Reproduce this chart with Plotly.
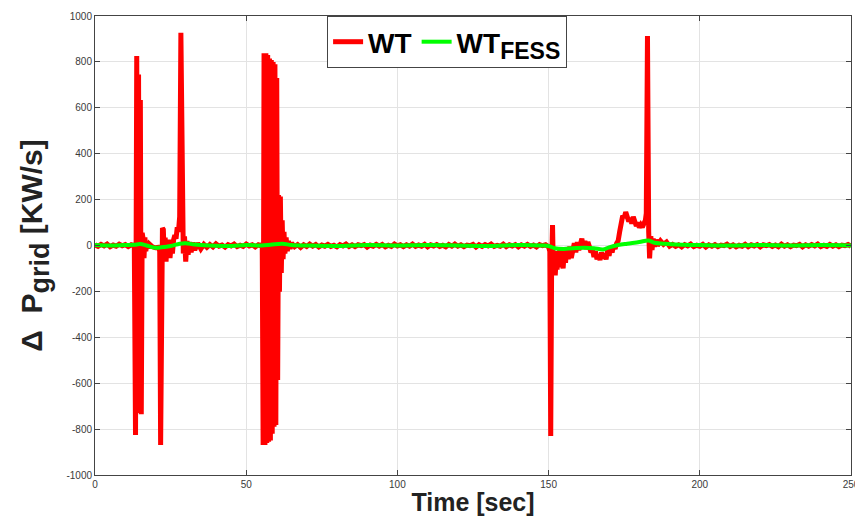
import plotly.graph_objects as go

# ---------------- WT (without FESS) ----------------
quiet_a_t = list(range(0, 14))
quiet_a_p = [3, -4, 5, -2, 6, -5, 2, -3, 6, -1, 4, -5, 3, -1]

burst_1_t = [13.4, 13.8, 14.1, 14.4, 14.7, 15.0, 15.3, 15.6, 15.9, 16.2, 16.5, 16.8, 17.2, 17.6,
             18, 19, 20, 21, 21.4, 21.7, 22.0, 22.3, 22.6, 22.9, 23.2, 23.5, 23.8, 24.1, 24.4,
             24.8, 25.2, 25.6, 26.0, 26.4, 26.8, 27.2, 27.6, 28.0, 28.4, 28.8, 29.2, 29.6, 30.0,
             30.4, 30.8, 31.3, 31.8, 32.3, 33, 34, 35]
burst_1_p = [-826, 826, -480, 745, -730, 634, -735, 55, 30, -55, 35, -25, 18, -12,
             6, -6, -10, -8, -25, -869, -40, 76, 70, -55, 35, -70, 15, -45, 25,
             -55, 5, -35, 25, 45, 30, 80, 60, 125, 927, 75, -35, 40, -70,
             20, -40, 15, -30, 12, -20, 10, -15]

quiet_b_t = list(range(36, 56))
quiet_b_p = [5, -8, 4, -6, 7, -3, 2, -7, 4, -2, 6, -5, 1, -4, 6, -2, 3, -6, 3, -2]

burst_2_t = [55.3, 55.6, 55.9, 56.2, 56.5, 56.8, 57.1, 57.4, 57.7, 58.0, 58.3, 58.6, 58.9, 59.2,
             59.5, 59.8, 60.1, 60.4, 60.7, 61.0, 61.3, 61.6, 61.9, 62.2, 62.5, 62.8, 63.2, 63.6,
             64.0, 64.5, 65]
burst_2_p = [10, -869, 838, -869, 838, -860, 830, -855, 815, -850, 808, -820, 800, -790,
             790, -782, 730, -586, 220, -201, 213, -120, 110, -60, 60, -35, 35, -25,
             20, -15, 10]

quiet_c_t = list(range(66, 150))
quiet_c_p = [-5, 4, -8, 3, -4, 6, -3, 4, -6, 2, -3, 5, -4, 1, -6, 4, -2, 6, -4, 3,
             -5, 3, -1, 4, -7, 2, -3, 5, -3, 4, -6, 1, -4, 6, -2, 3, -5, 3, -3, 6,
             -4, 2, -3, 5, -6, 3, -2, 4, -4, 1, -6, 4, -3, 6, -3, 3, -5, 2, -1, 5,
             -7, 3, -4, 4, -2, 6, -4, 1, -3, 6, -5, 3, -2, 4, -6, 3, -3, 5, -4, 2,
             -6, 4, -1, 3]

burst_3_t = [150.0, 150.4, 150.7, 151.0, 151.3, 151.6, 151.9, 152.2, 152.5, 152.8, 153.1, 153.4,
             153.7, 154.0, 154.4, 154.8, 155.2, 155.6, 156.0, 156.5, 157.0, 157.5, 158.0, 158.5,
             159.0, 159.5, 160.0, 160.5, 161.0, 161.5, 162.0, 162.5, 163.0, 163.5, 164.0, 164.5,
             165.0, 165.5, 166.0, 166.5, 167.0, 167.5, 168.0, 168.5, 169.0, 169.5, 170.0, 170.5,
             171.0, 171.5, 172.0, 172.5, 173.0, 173.5, 174.0, 174.5, 175.0, 175.5, 176.0, 176.5,
             177.0, 177.5, 178.0, 178.5, 179.0, 179.5, 180.0, 180.5, 181.0, 181.5, 182.0, 182.3,
             182.7, 183.1, 183.4, 183.8, 184.2, 184.6, 185.0, 185.5, 186, 187, 188, 189, 190]
burst_3_p = [-6, -25, -830, -90, 89, -125, -40, -130, -55, -105, -25, -95,
             -15, -80, -30, -100, -20, -75, -10, -60, -5, -55, -15, 10,
             -30, 15, -20, 5, 30, -10, 20, -15, 15, -5, -30, -15,
             -50, -25, -60, -40, -63, -30, -55, -35, -60, -20, -45, -10,
             -30, 0, -15, 10, 20, 60, 110, 130, 120, 146, 125, 105,
             120, 95, 125, 110, 85, 100, 78, 90, 80, 95, 110, 140,
             913, 60, -56, 40, -20, 30, -5, 25, 0, 20, 5, 15, -3]

quiet_d_t = list(range(191, 251))
quiet_d_p = [5, -4, 3, -6, 4, -2, 6, -5, 1, -3, 5, -7, 3, -3, 4, -5, 2, -1, 6, -4,
             3, -6, 1, -3, 5, -5, 3, -2, 4, -6, 3, -1, 4, -4, 2, -5, 6, -3, 3, -5,
             2, -1, 5, -6, 3, -3, 4, -2, 6, -5, 1, -4, 5, -3, 3, -5, 2, -1, 4, -3]

# ---------------- WT with FESS ----------------
fess_t = [0, 5, 10, 13, 15, 17, 20, 22, 25, 28, 30, 33, 38, 45, 50, 55, 58, 62, 65, 70,
          80, 90, 100, 110, 120, 130, 140, 148, 150, 152, 155, 158, 162, 165, 168, 170,
          173, 176, 180, 183, 185, 188, 192, 200, 210, 220, 230, 240, 250]
fess_p = [2, 0, 2, 3, 6, 0, -10, -8, -2, 8, 10, 4, 0, -2, 2, 0, 3, 8, 2, 0,
          -2, 2, 0, 2, 0, -2, 2, 0, -2, -12, -15, -12, -10, -12, -17, -8,
          2, 8, 15, 22, 12, 8, 4, 2, 0, 2, 0, 2, 0]

x_ticks = [0, 50, 100, 150, 200, 250]
y_ticks = [-1000, -800, -600, -400, -200, 0, 200, 400, 600, 800, 1000]

t_wt = quiet_a_t + burst_1_t + quiet_b_t + burst_2_t + quiet_c_t + burst_3_t + quiet_d_t
p_wt = quiet_a_p + burst_1_p + quiet_b_p + burst_2_p + quiet_c_p + burst_3_p + quiet_d_p

FONT = "Liberation Sans, Arial, Helvetica, sans-serif"

fig = go.Figure()
fig.add_trace(go.Scatter(x=t_wt, y=p_wt, mode="lines", name="WT",
                         line=dict(color="#ff0000", width=5)))
fig.add_trace(go.Scatter(x=fess_t, y=fess_p, mode="lines",
                         name="WT<sub><span style='font-size:23px'>FESS</span></sub>",
                         line=dict(color="#00ff00", width=4, shape="spline")))

axis_common = dict(
    showgrid=True, gridcolor="#e3e3e3", gridwidth=1,
    showline=True, linecolor="#444444", linewidth=1, mirror="ticks",
    ticks="inside", ticklen=5, tickcolor="#444444",
    zeroline=False, automargin=False, ticklabeloverflow="allow",
    tickfont=dict(family=FONT, size=10, color="#3a3a3a"),
)

fig.update_layout(
    width=855, height=516,
    margin=dict(l=95, r=4, t=16, b=41),
    paper_bgcolor="white", plot_bgcolor="white",
    showlegend=True,
    legend=dict(
        orientation="h", x=0.307, xanchor="left", y=1.0, yanchor="top",
        bgcolor="white", bordercolor="#444444", borderwidth=1,
        font=dict(family=FONT, size=28, color="black", weight="bold"),
        itemwidth=30, tracegroupgap=0,
    ),
    xaxis=dict(
        range=[0, 250], tickvals=x_ticks, ticktext=[str(v) for v in x_ticks],
        title=dict(text="Time [sec]", standoff=4,
                   font=dict(family=FONT, size=25, color="#222222", weight="bold")),
        **axis_common,
    ),
    yaxis=dict(
        range=[-1000, 1000], tickvals=y_ticks, ticktext=[str(v) for v in y_ticks],
        title=dict(text="Δ  P<sub><span style='font-size:27px'>grid</span></sub> [KW/s]", standoff=14,
                   font=dict(family=FONT, size=30, color="#222222", weight="bold")),
        **axis_common,
    ),
)

fig.write_html("out.html", config={"displayModeBar": False},
               post_script="document.body.style.margin='0';document.body.style.padding='0';")
